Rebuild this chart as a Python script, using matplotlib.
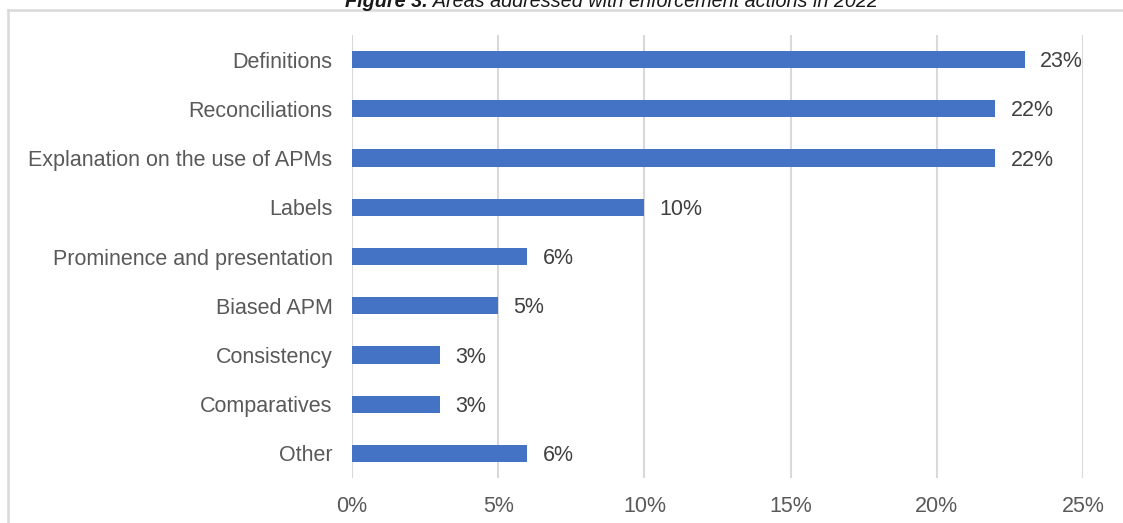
import matplotlib
matplotlib.use("Agg")
import matplotlib.pyplot as plt
from matplotlib.lines import Line2D

plt.rcParams['font.family'] = ['Liberation Sans', 'DejaVu Sans']

categories = ["Definitions", "Reconciliations", "Explanation on the use of APMs",
              "Labels", "Prominence and presentation", "Biased APM",
              "Consistency", "Comparatives", "Other"]
values = [23, 22, 22, 10, 6, 5, 3, 3, 6]
xticks = [0, 5, 10, 15, 20, 25]
xtick_labels = ["0%", "5%", "10%", "15%", "20%", "25%"]
title_bold = "Figure 3."
title_rest = " Areas addressed with enforcement actions in 2022"

W, H = 1123, 523
fig = plt.figure(figsize=(W / 100, H / 100), dpi=100)
ax = fig.add_axes([352 / W, 1 - 478 / H, (1083 - 352) / W, (478 - 35) / H])

bar_color = "#4472C4"
grid_color = "#D9D9D9"
label_color = "#595959"
value_color = "#404040"
fs = 15.5

ypos = list(range(len(categories)))
ax.barh(ypos, values, height=0.35, color=bar_color, zorder=3)
ax.set_ylim(len(categories) - 0.5, -0.5)
ax.set_xlim(0, 25)
ax.set_xticks(xticks)
ax.set_xticklabels(xtick_labels)
ax.set_yticks(ypos)
ax.set_yticklabels(categories)
ax.tick_params(axis='both', length=0, labelsize=fs, labelcolor=label_color)
ax.tick_params(axis='x', pad=13)
ax.tick_params(axis='y', pad=14)
for lbl in ax.get_yticklabels():
    lbl.set_y(lbl.get_position()[1])
for s in ax.spines.values():
    s.set_visible(False)
ax.grid(axis='x', color=grid_color, linewidth=1.5, zorder=0)
ax.set_axisbelow(True)

for y, v in zip(ypos, values):
    ax.annotate(f"{v}%", (v, y), xytext=(11, -1.5), textcoords='offset points',
                va='center', ha='left', fontsize=fs, color=value_color)

# outer chart border (partially visible)
fig.add_artist(Line2D([8 / W, 1], [1 - 10 / H, 1 - 10 / H], color=grid_color,
                      linewidth=1.8, transform=fig.transFigure))
fig.add_artist(Line2D([8 / W, 8 / W], [0, 1 - 10 / H], color=grid_color,
                      linewidth=1.8, transform=fig.transFigure))

# title (clipped at top, as in the reference)
tfs = 14.3
ty = 1 - 7 / H
t1 = fig.text(345 / W, ty, title_bold, fontsize=tfs, fontweight='bold',
              fontstyle='italic', color='#1a1a1a', va='baseline', ha='left')
r = fig.canvas.get_renderer()
bb = t1.get_window_extent(renderer=r)
fig.text(bb.x1 / W, ty, title_rest, fontsize=tfs, fontstyle='italic',
         color='#1a1a1a', va='baseline', ha='left')

fig.savefig("out.png", dpi=100)
